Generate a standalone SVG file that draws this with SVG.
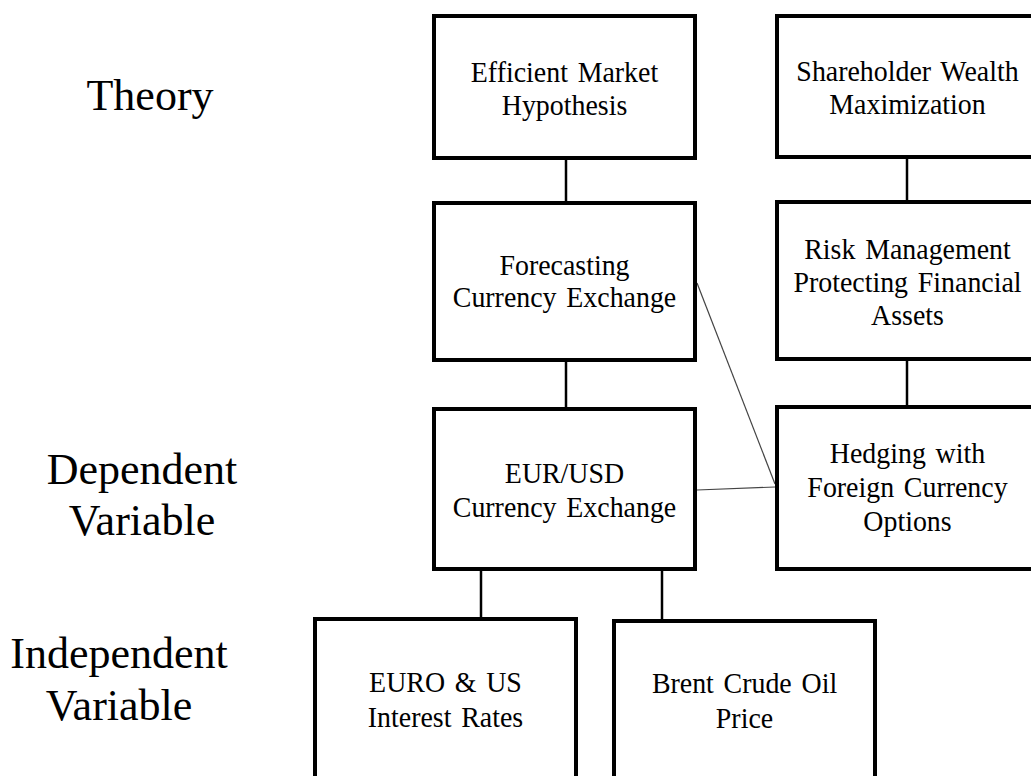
<svg xmlns="http://www.w3.org/2000/svg" width="1031" height="776" viewBox="0 0 1031 776">
<style>
.box{fill:#fff;stroke:#000;stroke-width:4}
.t{font-family:"Liberation Serif","Times New Roman",serif;font-size:30px;fill:#000;text-anchor:middle;word-spacing:3px}
.lbl{font-family:"Liberation Serif","Times New Roman",serif;font-size:44px;fill:#000;text-anchor:middle}
.c{stroke:#000;stroke-width:2.5;fill:none}
.thin{stroke:#444;stroke-width:1.2;fill:none}
</style>
<rect width="1031" height="776" fill="#fff"/>
<g id="labels">
<text class="lbl" x="150" y="110">Theory</text>
<text class="lbl" x="142" y="484">Dependent</text>
<text class="lbl" x="142" y="535">Variable</text>
<text class="lbl" x="119" y="668">Independent</text>
<text class="lbl" x="119" y="720">Variable</text>
</g>
<g id="connectors">
<line class="c" x1="566" y1="160" x2="566" y2="205"/>
<line class="c" x1="907" y1="158" x2="907" y2="204"/>
<line class="c" x1="566" y1="362" x2="566" y2="409"/>
<line class="c" x1="907" y1="361" x2="907" y2="407"/>
<line class="c" x1="481" y1="570" x2="481" y2="619"/>
<line class="c" x1="662" y1="570" x2="662" y2="621"/>
<line class="thin" x1="697" y1="283" x2="775" y2="484"/>
<line class="thin" x1="697" y1="490" x2="775" y2="487"/>
</g>
<g id="emh">
<rect class="box" x="434" y="16" width="261" height="142"/>
<text class="t" transform="translate(564.5,82) scale(0.93,1)">Efficient Market</text>
<text class="t" transform="translate(564.5,115) scale(0.93,1)">Hypothesis</text>
</g>
<g id="swm">
<rect class="box" x="777" y="16" width="261" height="141"/>
<text class="t" transform="translate(907.5,81) scale(0.93,1)">Shareholder Wealth</text>
<text class="t" transform="translate(907.5,114) scale(0.93,1)">Maximization</text>
</g>
<g id="forecasting">
<rect class="box" x="434" y="203" width="261" height="157"/>
<text class="t" transform="translate(564.5,275) scale(0.93,1)">Forecasting</text>
<text class="t" transform="translate(564.5,307) scale(0.93,1)">Currency Exchange</text>
</g>
<g id="risk">
<rect class="box" x="777" y="202" width="261" height="157"/>
<text class="t" transform="translate(907.5,259) scale(0.93,1)">Risk Management</text>
<text class="t" transform="translate(907.5,292) scale(0.93,1)">Protecting Financial</text>
<text class="t" transform="translate(907.5,325) scale(0.93,1)">Assets</text>
</g>
<g id="eurusd">
<rect class="box" x="434" y="409" width="261" height="160"/>
<text class="t" transform="translate(564.5,483) scale(0.93,1)">EUR/USD</text>
<text class="t" transform="translate(564.5,517) scale(0.93,1)">Currency Exchange</text>
</g>
<g id="hedging">
<rect class="box" x="777" y="407" width="261" height="162"/>
<text class="t" transform="translate(907.5,463) scale(0.93,1)">Hedging with</text>
<text class="t" transform="translate(907.5,497) scale(0.93,1)">Foreign Currency</text>
<text class="t" transform="translate(907.5,531) scale(0.93,1)">Options</text>
</g>
<g id="rates">
<rect class="box" x="315" y="619" width="261" height="200"/>
<text class="t" transform="translate(445.5,692) scale(0.93,1)">EURO &amp; US</text>
<text class="t" transform="translate(445.5,727) scale(0.93,1)">Interest Rates</text>
</g>
<g id="oil">
<rect class="box" x="614" y="621" width="261" height="200"/>
<text class="t" transform="translate(744.5,693) scale(0.93,1)">Brent Crude Oil</text>
<text class="t" transform="translate(744.5,728) scale(0.93,1)">Price</text>
</g>
</svg>
